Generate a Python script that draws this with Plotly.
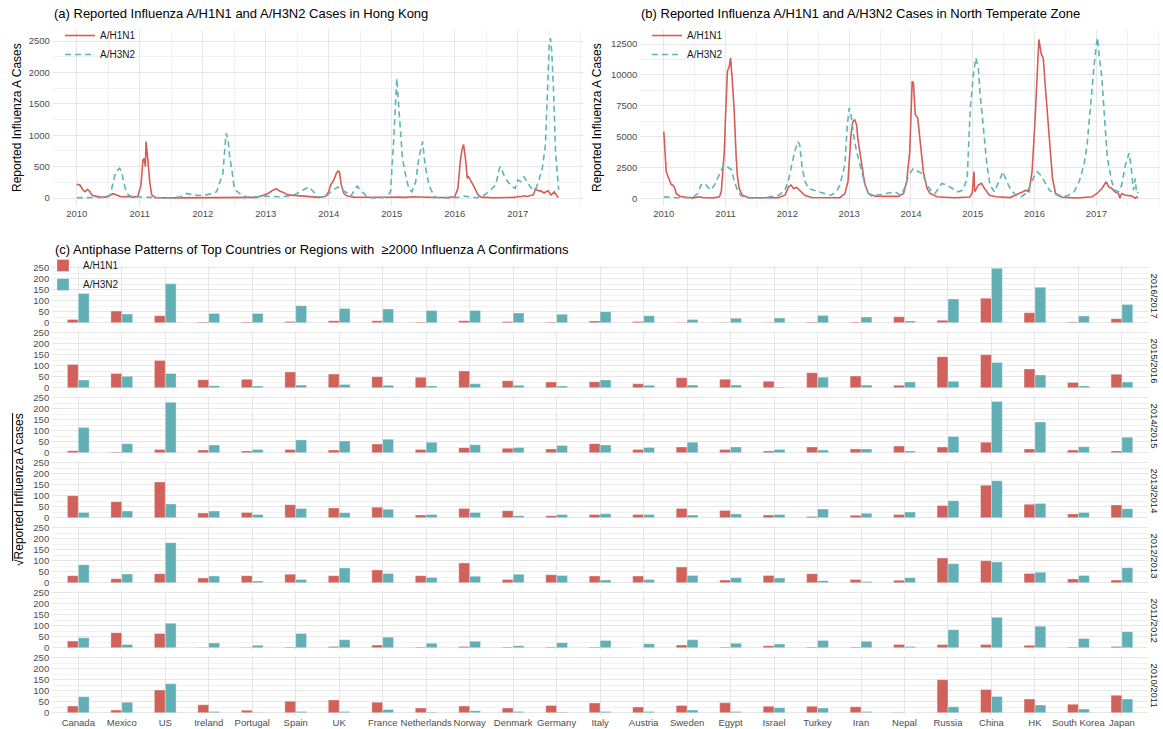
import plotly.graph_objects as go

W, H = 1163, 729
def fx(p): return p / W
def fy(p): return 1 - p / H

# ---------------- Panel (a): Hong Kong ----------------
hk_h1n1_t = [2010.00, 2010.05, 2010.10, 2010.13, 2010.17, 2010.21, 2010.24, 2010.29, 2010.37, 2010.45,
             2010.52, 2010.58, 2010.63, 2010.70, 2010.80, 2010.90, 2010.97, 2011.02, 2011.05, 2011.07,
             2011.09, 2011.10, 2011.13, 2011.16, 2011.19, 2011.25, 2011.50, 2012.00, 2012.50, 2012.85,
             2012.95, 2013.05, 2013.12, 2013.17, 2013.22, 2013.28, 2013.35, 2013.45, 2013.55, 2013.70,
             2013.85, 2013.95, 2014.00, 2014.03, 2014.08, 2014.12, 2014.15, 2014.17, 2014.20, 2014.24,
             2014.29, 2014.40, 2014.60, 2014.80, 2015.00, 2015.10, 2015.20, 2015.35, 2015.50, 2015.70,
             2015.90, 2016.00, 2016.05, 2016.09, 2016.12, 2016.14, 2016.17, 2016.20, 2016.22, 2016.25,
             2016.27, 2016.32, 2016.37, 2016.42, 2016.60, 2016.80, 2016.95, 2017.00, 2017.05, 2017.10,
             2017.15, 2017.20, 2017.25, 2017.28, 2017.32, 2017.37, 2017.42, 2017.45, 2017.48, 2017.53,
             2017.58, 2017.63, 2017.65]
hk_h1n1_v = [218, 207, 128, 100, 138, 100, 48, 30, 20, 15,
             40, 69, 50, 20, 25, 15, 30, 200, 600, 633,
             500, 900, 600, 250, 50, 5, 3, 3, 3, 10,
             40, 80, 130, 145, 110, 90, 50, 40, 30, 20,
             10, 30, 100, 207, 287, 393, 430, 420, 207, 74,
             32, 15, 10, 8, 12, 15, 10, 20, 10, 8,
             10, 20, 150, 600, 790, 855, 632, 313, 340, 287,
             260, 154, 48, 15, 5, 5, 10, 25, 20, 35,
             25, 40, 50, 143, 120, 110, 80, 100, 117, 48,
             100, 21, 10]

hk_h3n2_t = [2010.00, 2010.20, 2010.40, 2010.50, 2010.53, 2010.58, 2010.62, 2010.68, 2010.71, 2010.77,
             2010.82, 2010.88, 2011.00, 2011.10, 2011.20, 2011.50, 2011.65, 2011.75, 2011.85, 2011.95,
             2012.05, 2012.15, 2012.22, 2012.28, 2012.32, 2012.37, 2012.40, 2012.43, 2012.46, 2012.50,
             2012.55, 2012.62, 2012.70, 2012.85, 2013.00, 2013.20, 2013.35, 2013.44, 2013.55, 2013.68,
             2013.76, 2013.82, 2013.95, 2014.05, 2014.15, 2014.22, 2014.30, 2014.35, 2014.45, 2014.52,
             2014.60, 2014.65, 2014.80, 2014.93, 2014.98, 2015.03, 2015.06, 2015.08, 2015.11, 2015.14,
             2015.17, 2015.22, 2015.27, 2015.32, 2015.38, 2015.43, 2015.49, 2015.53, 2015.59, 2015.64,
             2015.69, 2015.80, 2016.00, 2016.15, 2016.25, 2016.35, 2016.43, 2016.54, 2016.65, 2016.71,
             2016.73, 2016.80, 2016.91, 2016.96, 2017.00, 2017.05, 2017.10, 2017.16, 2017.22, 2017.28,
             2017.33, 2017.39, 2017.44, 2017.48, 2017.50, 2017.52, 2017.54, 2017.57, 2017.60, 2017.65]
hk_h3n2_v = [5, 5, 10, 20, 40, 260, 420, 473, 420, 154,
             48, 21, 15, 20, 5, 0, 20, 74, 50, 40,
             50, 70, 100, 260, 393, 1032, 952, 633, 473, 154,
             100, 48, 15, 20, 30, 20, 30, 48, 100, 180,
             100, 20, 20, 120, 175, 120, 80, 30, 190, 110,
             30, 5, 0, 21, 100, 900, 1535, 1907, 1480, 1000,
             633, 366, 154, 100, 260, 633, 900, 526, 207, 100,
             15, 0, 5, 30, 20, 5, 20, 100, 207, 473,
             500, 313, 180, 154, 287, 260, 340, 234, 154, 128,
             260, 473, 845, 1960, 2440, 2545, 2330, 1700, 740, 128]

# ---------------- Panel (b): North Temperate Zone ----------------
ntz_h1n1_t = [2010.00, 2010.02, 2010.04, 2010.07, 2010.10, 2010.12, 2010.15, 2010.18, 2010.20, 2010.26,
              2010.36, 2010.47, 2010.58, 2010.63, 2010.79, 2010.90, 2010.93, 2010.95, 2010.98, 2011.00,
              2011.03, 2011.06, 2011.08, 2011.11, 2011.14, 2011.17, 2011.19, 2011.22, 2011.27, 2011.38,
              2011.60, 2011.85, 2011.96, 2012.02, 2012.06, 2012.10, 2012.15, 2012.20, 2012.28, 2012.39,
              2012.60, 2012.85, 2012.93, 2012.98, 2013.03, 2013.06, 2013.09, 2013.12, 2013.14, 2013.20,
              2013.25, 2013.31, 2013.42, 2013.60, 2013.80, 2013.88, 2013.93, 2013.98, 2014.02, 2014.04,
              2014.07, 2014.11, 2014.15, 2014.20, 2014.26, 2014.31, 2014.42, 2014.70, 2014.95, 2014.99,
              2015.02, 2015.03, 2015.09, 2015.14, 2015.19, 2015.27, 2015.38, 2015.60, 2015.81, 2015.86,
              2015.91, 2015.96, 2016.01, 2016.05, 2016.07, 2016.11, 2016.14, 2016.18, 2016.24, 2016.29,
              2016.34, 2016.45, 2016.70, 2016.93, 2017.01, 2017.09, 2017.16, 2017.20, 2017.25, 2017.30,
              2017.36, 2017.38, 2017.41, 2017.47, 2017.57, 2017.63, 2017.65, 2017.67]
ntz_h1n1_v = [5400, 3780, 2150, 1740, 1330, 1110, 1060, 790, 380, 160,
              80, 30, 110, 50, 20, 110, 520, 1600, 3780, 6770,
              10300, 10700, 11380, 9480, 7040, 3500, 1870, 790, 240, 30,
              10, 30, 240, 920, 1060, 790, 870, 650, 240, 50,
              20, 40, 380, 1330, 5130, 6220, 6360, 5950, 4860, 2690,
              1200, 380, 160, 150, 150, 380, 1330, 3780, 9480, 9350,
              6770, 6500, 4320, 2150, 790, 380, 110, 40, 100, 380,
              2150, 520, 1060, 1200, 790, 240, 110, 50, 520, 650,
              520, 2150, 6500, 11660, 12880, 11660, 11380, 8670, 4590, 1600,
              380, 80, 20, 110, 380, 790, 1330, 920, 790, 520,
              380, 0, 380, 240, 190, 0, 110, 0]

ntz_h3n2_t = [2010.00, 2010.26, 2010.47, 2010.55, 2010.60, 2010.66, 2010.71, 2010.76, 2010.82, 2010.90,
              2010.97, 2011.03, 2011.10, 2011.13, 2011.19, 2011.24, 2011.32, 2011.60, 2011.75, 2011.86,
              2011.96, 2012.02, 2012.07, 2012.12, 2012.17, 2012.20, 2012.24, 2012.29, 2012.34, 2012.42,
              2012.50, 2012.60, 2012.71, 2012.79, 2012.85, 2012.93, 2012.97, 2013.00, 2013.03, 2013.07,
              2013.12, 2013.19, 2013.26, 2013.31, 2013.36, 2013.52, 2013.63, 2013.74, 2013.83, 2013.91,
              2013.96, 2014.04, 2014.12, 2014.18, 2014.26, 2014.34, 2014.39, 2014.50, 2014.58, 2014.68,
              2014.76, 2014.84, 2014.91, 2014.96, 2015.01, 2015.05, 2015.09, 2015.12, 2015.18, 2015.23,
              2015.28, 2015.35, 2015.42, 2015.49, 2015.55, 2015.62, 2015.70, 2015.78, 2015.86, 2015.91,
              2015.99, 2016.04, 2016.10, 2016.16, 2016.24, 2016.32, 2016.42, 2016.53, 2016.64, 2016.72,
              2016.80, 2016.85, 2016.90, 2016.96, 2017.00, 2017.02, 2017.05, 2017.09, 2017.14, 2017.18,
              2017.25, 2017.30, 2017.36, 2017.41, 2017.47, 2017.52, 2017.53, 2017.56, 2017.60, 2017.63,
              2017.65, 2017.68]
ntz_h3n2_v = [110, 30, 50, 380, 1060, 1200, 920, 650, 1060, 1870,
              2690, 2550, 2280, 1600, 650, 240, 30, 10, 110, 240,
              650, 1470, 2690, 3780, 4590, 4320, 2420, 1330, 790, 650,
              570, 380, 240, 520, 1060, 2690, 5950, 7310, 6770, 5130,
              3780, 2420, 1060, 380, 190, 300, 380, 520, 240, 920,
              1870, 2420, 2150, 2010, 1060, 520, 380, 1200, 1060, 790,
              520, 650, 1600, 7310, 10030, 11380, 10570, 8400, 5400, 2690,
              1060, 520, 1330, 2150, 1330, 650, 240, 110, 380, 790,
              1740, 2150, 1870, 1330, 650, 380, 110, 190, 520, 1330,
              2690, 4320, 7310, 10570, 12470, 13010, 11380, 9750, 5950, 3230,
              1330, 650, 520, 1060, 2690, 3500, 3640, 2690, 650, 1600,
              380, 500]

# ---------------- Panel (c): countries by season ----------------
countries = ["Canada", "Mexico", "US", "Ireland", "Portugal", "Spain", "UK", "France",
             "Netherlands", "Norway", "Denmark", "Germany", "Italy", "Austria", "Sweden",
             "Egypt", "Israel", "Turkey", "Iran", "Nepal", "Russia", "China", "HK",
             "South Korea", "Japan"]
seasons = ["2016/2017", "2015/2016", "2014/2015", "2013/2014", "2012/2013", "2011/2012", "2010/2011"]

h1n1_2016_17 = [15, 53, 32, 3, 3, 6, 9, 9, 3, 9, 5, 3, 8, 6, 2, 2, 2, 3, 3, 27, 11, 111, 45, 3, 18]
h3n2_2016_17 = [133, 39, 177, 42, 42, 77, 65, 62, 55, 56, 44, 38, 50, 32, 14, 20, 21, 33, 26, 8, 108, 247, 161, 30, 83]
h1n1_2015_16 = [106, 65, 124, 36, 38, 71, 62, 50, 47, 76, 32, 26, 27, 18, 45, 38, 29, 68, 53, 11, 141, 150, 85, 24, 61]
h3n2_2015_16 = [35, 52, 65, 9, 8, 12, 15, 11, 8, 18, 11, 8, 35, 11, 12, 12, 3, 48, 12, 26, 29, 115, 58, 8, 26]
h1n1_2014_15 = [9, 3, 15, 12, 8, 15, 12, 39, 15, 23, 20, 17, 41, 15, 26, 14, 8, 26, 17, 30, 26, 48, 17, 12, 8]
h3n2_2014_15 = [114, 41, 229, 35, 15, 58, 53, 61, 47, 36, 24, 33, 35, 24, 47, 26, 15, 12, 17, 8, 74, 233, 139, 27, 70]
h1n1_2013_14 = [100, 73, 162, 21, 24, 59, 44, 48, 12, 42, 32, 9, 14, 14, 42, 33, 12, 6, 11, 14, 55, 148, 61, 17, 58]
h3n2_2013_14 = [24, 30, 62, 30, 15, 42, 23, 38, 14, 24, 9, 14, 18, 14, 12, 17, 14, 39, 20, 26, 77, 168, 65, 24, 41]
h1n1_2012_13 = [32, 18, 41, 21, 32, 38, 32, 58, 32, 89, 15, 36, 30, 30, 71, 12, 33, 41, 14, 11, 112, 100, 42, 17, 12]
h3n2_2012_13 = [82, 39, 182, 30, 8, 15, 67, 42, 24, 29, 38, 33, 12, 14, 33, 23, 21, 9, 5, 23, 86, 94, 47, 33, 68]
h1n1_2011_12 = [30, 68, 65, 2, 2, 3, 5, 12, 3, 6, 3, 3, 3, 0, 12, 3, 9, 3, 3, 15, 14, 15, 11, 3, 6]
h3n2_2011_12 = [45, 15, 111, 21, 11, 64, 36, 48, 20, 29, 9, 23, 33, 18, 36, 20, 17, 33, 29, 6, 82, 138, 98, 42, 73]
h1n1_2010_11 = [30, 12, 103, 36, 11, 52, 58, 47, 21, 30, 21, 33, 44, 26, 33, 45, 29, 29, 27, 2, 150, 105, 62, 38, 79]
h3n2_2010_11 = [73, 47, 132, 6, 2, 6, 6, 15, 3, 9, 5, 3, 6, 5, 12, 5, 23, 21, 6, 0, 27, 74, 35, 17, 62]

season_h1n1 = [h1n1_2016_17, h1n1_2015_16, h1n1_2014_15, h1n1_2013_14, h1n1_2012_13, h1n1_2011_12, h1n1_2010_11]
season_h3n2 = [h3n2_2016_17, h3n2_2015_16, h3n2_2014_15, h3n2_2013_14, h3n2_2012_13, h3n2_2011_12, h3n2_2010_11]

year_ticks = [2010, 2011, 2012, 2013, 2014, 2015, 2016, 2017]

# ---------------- Styles ----------------
FONT = "Liberation Sans, Arial, Helvetica, sans-serif"
RED_L = "#D65D56"
TEAL_L = "#5DB4B9"
RED_B = "#D0625B"
TEAL_B = "#62B0B6"
GRID = "#E6E6E6"
GRID_MINOR = "#F1F1F1"
TICK_C = "#4D4D4D"
DASH = "6px,4px"

fig = go.Figure()

fig.add_trace(go.Scatter(x=hk_h1n1_t, y=hk_h1n1_v, mode="lines", name="A/H1N1",
                         line=dict(color=RED_L, width=1.6), xaxis="x", yaxis="y", legend="legend"))
fig.add_trace(go.Scatter(x=hk_h3n2_t, y=hk_h3n2_v, mode="lines", name="A/H3N2",
                         line=dict(color=TEAL_L, width=1.6, dash=DASH), xaxis="x", yaxis="y", legend="legend"))
fig.add_trace(go.Scatter(x=ntz_h1n1_t, y=ntz_h1n1_v, mode="lines", name="A/H1N1",
                         line=dict(color=RED_L, width=1.6), xaxis="x2", yaxis="y2", legend="legend2"))
fig.add_trace(go.Scatter(x=ntz_h3n2_t, y=ntz_h3n2_v, mode="lines", name="A/H3N2",
                         line=dict(color=TEAL_L, width=1.6, dash=DASH), xaxis="x2", yaxis="y2", legend="legend2"))

for k in range(7):
    ax = 3 + k
    fig.add_trace(go.Bar(x=countries, y=season_h1n1[k], name="A/H1N1", width=0.25, offset=-0.25,
                         marker=dict(color=RED_B, line=dict(color="rgba(255,255,255,0.55)", width=0.6)),
                         xaxis=f"x{ax}", yaxis=f"y{ax}", legend="legend3", showlegend=(k == 0)))
    fig.add_trace(go.Bar(x=countries, y=season_h3n2[k], name="A/H3N2", width=0.25, offset=0.0,
                         marker=dict(color=TEAL_B, line=dict(color="rgba(255,255,255,0.55)", width=0.6)),
                         xaxis=f"x{ax}", yaxis=f"y{ax}", legend="legend3", showlegend=(k == 0)))

layout = dict(
    width=W, height=H, margin=dict(l=0, r=0, t=0, b=0, autoexpand=False),
    paper_bgcolor="white", plot_bgcolor="white",
    font=dict(family=FONT, size=10, color="#1A1A1A"),
    barmode="overlay",
)

def time_x(domain, anchor):
    return dict(domain=domain, range=[2009.62, 2018.03], tickmode="array", tickvals=year_ticks,
                ticktext=[str(v) for v in year_ticks], showgrid=True, gridcolor=GRID, gridwidth=1,
                minor=dict(dtick=0.5, tick0=2010, showgrid=True, gridcolor=GRID_MINOR, gridwidth=0.7),
                zeroline=False, showline=False, ticks="", tickfont=dict(size=9.5, color=TICK_C),
                anchor=anchor, fixedrange=True)

def time_y(rng, dt, anchor):
    return dict(domain=[fy(206.2), fy(29.8)], range=rng, tickmode="linear", tick0=0, dtick=dt,
                tickformat="d", showgrid=True, gridcolor=GRID, gridwidth=1,
                minor=dict(dtick=dt / 2, tick0=0, showgrid=True, gridcolor=GRID_MINOR, gridwidth=0.7),
                zeroline=False, showline=False, ticks="", tickfont=dict(size=9.5, color=TICK_C),
                anchor=anchor, ticklabelstandoff=2)

layout["xaxis"] = time_x([fx(52.8), fx(582.6)], "y")
layout["yaxis"] = time_y([-130, 2680], 500, "x")
layout["xaxis2"] = time_x([fx(640.3), fx(1160)], "y2")
layout["yaxis2"] = time_y([-650, 13660], 2500, "x2")

annotations = []
for k in range(7):
    ax = 3 + k
    zero = 322.7 + 65 * k
    top = zero - 259.35 * 0.22
    bot = zero + 12.35 * 0.22
    xa = dict(domain=[fx(52.2), fx(1148)], type="category", categoryorder="array",
              categoryarray=countries, range=[-0.6, 24.6], anchor=f"y{ax}",
              showticklabels=(k == 6), showgrid=True, gridcolor=GRID, gridwidth=1,
              zeroline=False, showline=False, ticks="", tickangle=0,
              tickfont=dict(size=9.5, color=TICK_C))
    if k == 6:
        xa["anchor"] = "free"
        xa["position"] = fy(715)
    layout[f"xaxis{ax}"] = xa
    layout[f"yaxis{ax}"] = dict(domain=[fy(bot), fy(top)], range=[-12.35, 259.35], tickmode="array",
                                tickvals=[0, 50, 100, 150, 200, 250], showgrid=True, gridcolor=GRID,
                                gridwidth=1,
                                minor=dict(tickmode="array", tickvals=[25, 75, 125, 175, 225],
                                           showgrid=True, gridcolor=GRID_MINOR, gridwidth=0.7),
                                zeroline=False, showline=False, ticks="", anchor=f"x{ax}",
                                tickfont=dict(size=9.5, color=TICK_C), ticklabelstandoff=2)
    annotations.append(dict(text=seasons[k], x=fx(1154), y=fy((top + bot) / 2), xref="paper",
                            yref="paper", showarrow=False, textangle=90, xanchor="center",
                            yanchor="middle", font=dict(size=9.5, color="#1A1A1A")))

# Titles
annotations += [
    dict(text="(a) Reported Influenza A/H1N1 and A/H3N2 Cases in Hong Kong", x=fx(52), y=fy(14),
         xref="paper", yref="paper", xanchor="left", yanchor="middle", showarrow=False,
         font=dict(size=13, color="black")),
    dict(text="(b) Reported Influenza A/H1N1 and A/H3N2 Cases in North Temperate Zone", x=fx(639), y=fy(14),
         xref="paper", yref="paper", xanchor="left", yanchor="middle", showarrow=False,
         font=dict(size=13, color="black")),
    dict(text="(c) Antiphase Patterns of Top Countries or Regions with  \u22652000 Influenza A Confirmations",
         x=fx(53), y=fy(249), xref="paper", yref="paper", xanchor="left", yanchor="middle",
         showarrow=False, font=dict(size=13, color="black")),
    dict(text="Reported Influenza A Cases", x=fx(17), y=fy(118), xref="paper", yref="paper",
         textangle=-90, showarrow=False, xanchor="center", yanchor="middle",
         font=dict(size=12, color="black")),
    dict(text="Reported Influenza A Cases", x=fx(597), y=fy(118), xref="paper", yref="paper",
         textangle=-90, showarrow=False, xanchor="center", yanchor="middle",
         font=dict(size=12, color="black")),
    dict(text="\u221aReported Influenza A cases",
         x=fx(19), y=fy(490), xref="paper", yref="paper", textangle=-90, showarrow=False,
         xanchor="center", yanchor="middle", font=dict(size=12, color="black")),
]
layout["annotations"] = annotations

# vinculum (overline) of the square-root symbol in the y-axis title of panel (c)
layout["shapes"] = [dict(type="line", xref="paper", yref="paper", x0=fx(12.6), x1=fx(12.6),
                         y0=fy(413), y1=fy(561), line=dict(color="black", width=1))]

leg_common = dict(xanchor="left", yanchor="top", bgcolor="rgba(0,0,0,0)", borderwidth=0,
                  font=dict(size=10, color="#1A1A1A"), tracegroupgap=0)
layout["legend"] = dict(x=fx(60), y=fy(21), **leg_common)
layout["legend2"] = dict(x=fx(647), y=fy(21), **leg_common)
layout["legend3"] = dict(x=fx(43), y=fy(251), **leg_common)

fig.update_layout(**layout)
fig.write_html("out.html", config={"displayModeBar": False},
               post_script="document.body.style.margin='0px';document.body.style.overflow='hidden';")
